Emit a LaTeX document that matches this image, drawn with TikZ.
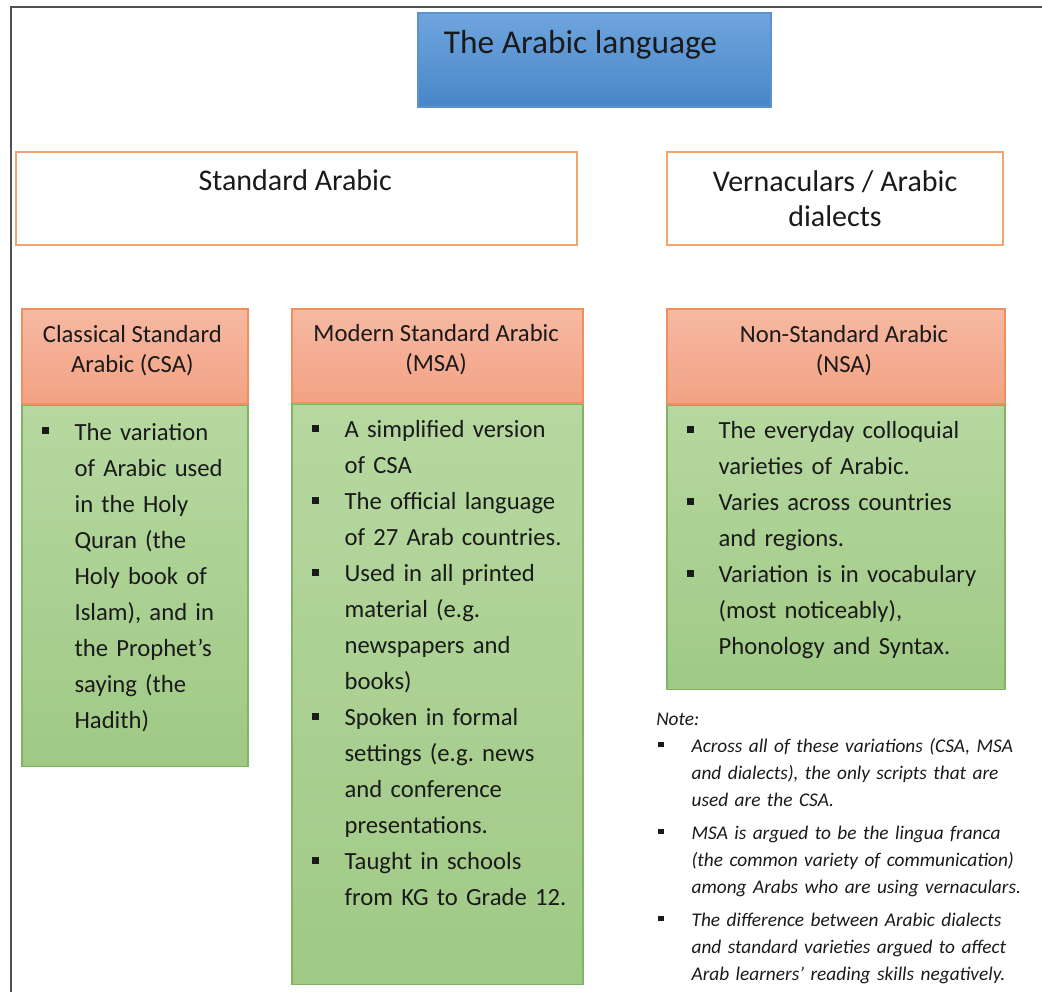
\documentclass[tikz,border=0pt]{standalone}
\usepackage{fontspec}
\setmainfont{Carlito}
\usetikzlibrary{positioning}

\definecolor{blueTop}{HTML}{6FA5DD}
\definecolor{blueBot}{HTML}{4886C8}
\definecolor{blueEdge}{HTML}{5B92CF}
\definecolor{frameCol}{HTML}{505050}
\definecolor{orangeEdge}{HTML}{F2A46E}
\definecolor{salmonTop}{HTML}{F6B9A2}
\definecolor{salmonBot}{HTML}{F3A283}
\definecolor{salmonEdge}{HTML}{EE8F5F}
\definecolor{greenTop}{HTML}{B6D8A0}
\definecolor{greenBot}{HTML}{A0C985}
\definecolor{greenEdge}{HTML}{80B363}
\definecolor{inkCol}{HTML}{1A1A1A}

% square bullet and list used in the boxes
\newcommand{\sqbullet}{\rule[0.24em]{0.28em}{0.28em}}
\newenvironment{sqlist}[1]{%
  \begin{list}{\sqbullet}{%
    \setlength\leftmargin{#1}\setlength\labelwidth{#1}%
    \setlength\labelsep{0pt}\setlength\topsep{0pt}%
    \setlength\partopsep{0pt}\setlength\parsep{0pt}%
    \setlength\itemsep{0pt}%
    \renewcommand\makelabel[1]{##1\hfil}}}%
  {\end{list}}

\tikzset{
  langbox/.style={draw=blueEdge, line width=1pt, top color=blueTop, bottom color=blueBot, inner sep=0pt},
  groupbox/.style={draw=orangeEdge, line width=1.2pt, fill=white, inner sep=0pt},
  headbox/.style={draw=salmonEdge, line width=1pt, top color=salmonTop, bottom color=salmonBot, inner sep=0pt},
  bodybox/.style={draw=greenEdge, line width=1pt, top color=greenTop, bottom color=greenBot, inner sep=0pt},
  headtext/.style={align=center, text=inkCol, inner sep=0pt, font=\fontsize{18.5pt}{22.5pt}\selectfont},
  bodytext/.style={anchor=base west, align=left, text=inkCol, inner sep=0pt, font=\fontsize{18.5pt}{27pt}\selectfont\frenchspacing},
}

\begin{document}
\begin{tikzpicture}[x=0.75pt, y=-0.75pt]
    \def\px{0.75pt}
    \fill[white] (0,0) rectangle (1042,992);
    \useasboundingbox (0,0) rectangle (1042,992);

    % frame
    \draw[frameCol, line width=1.2pt] (11,992) -- (11,7) -- (1042,7);

    % top box
    \node[langbox, minimum width=353*\px, minimum height=94*\px] (lang) at (594.5,60) {};
    \node[text=inkCol, font=\fontsize{25pt}{30pt}\selectfont] (langTxt) at ([xshift=-10.5pt,yshift=11.5pt]lang.center) {The Arabic language};

    % two groups
    \node[groupbox, minimum width=561*\px, minimum height=93*\px] (std) at (296.5,198.5) {};
    \node[text=inkCol, font=\fontsize{22.5pt}{26.25pt}\selectfont] (stdTxt) at ([xshift=-1pt,yshift=13.9pt]std.center) {Standard Arabic};
    \node[groupbox, minimum width=336*\px, minimum height=93*\px] (vern) at (835,198.5) {};
    \node[align=center, text=inkCol, font=\fontsize{22.5pt}{26.25pt}\selectfont] (vernTxt) at (vern.center) {Vernaculars / Arabic\\dialects};

    % headers
    \node[headbox, minimum width=226*\px, minimum height=95*\px] (csaH) at (135,356.5) {};
    \node[headbox, minimum width=291*\px, minimum height=94*\px] (msaH) at (437.5,356) {};
    \node[headbox, minimum width=338*\px, minimum height=95*\px] (nsaH) at (836,356.5) {};
    \node[headtext] (csaHTxt) at ([xshift=-2pt,yshift=4.5pt]csaH.center) {Classical Standard\\Arabic (CSA)};
    \node[headtext] (msaHTxt) at ([xshift=-1pt,yshift=4.5pt]msaH.center) {Modern Standard Arabic\\(MSA)};
    \node[headtext] (nsaHTxt) at ([xshift=6pt,yshift=4.5pt]nsaH.center) {Non-Standard Arabic\\(NSA)};

    % bodies
    \node[bodybox, minimum width=226*\px, minimum height=361*\px, below=0pt of csaH] (csaB) {};
    \node[bodybox, minimum width=291*\px, minimum height=580*\px, below=0pt of msaH] (msaB) {};
    \node[bodybox, minimum width=338*\px, minimum height=284*\px, below=0pt of nsaH] (nsaB) {};

    \node[bodytext, text width=155pt] (csaTxt) at ([xshift=15pt,yshift=0.5pt]csaB.north west) {%
      \begin{sqlist}{24.75pt}
      \item The variation\\of Arabic used\\in the Holy\\Quran (the\\Holy book of\\Islam), and in\\the Prophet’s\\saying (the\\Hadith)
      \end{sqlist}};
    \node[bodytext, text width=200pt] (msaTxt) at ([xshift=15pt,yshift=1.5pt]msaB.north west) {%
      \begin{sqlist}{24.75pt}
      \item A simplified version\\of CSA
      \item The official language\\of 27 Arab countries.
      \item Used in all printed\\material (e.g.\\newspapers and\\books)
      \item Spoken in formal\\settings (e.g. news\\and conference\\presentations.
      \item Taught in schools\\from KG to Grade 12.
      \end{sqlist}};
    \node[bodytext, text width=235pt] (nsaTxt) at ([xshift=15pt,yshift=1.5pt]nsaB.north west) {%
      \begin{sqlist}{24pt}
      \item The everyday colloquial\\varieties of Arabic.
      \item Varies across countries\\and regions.
      \item Variation is in vocabulary\\(most noticeably),\\Phonology and Syntax.
      \end{sqlist}};

    % note
    \node[anchor=base west, align=left, text=inkCol, inner sep=0pt, text width=285pt,
          font=\fontsize{14.5pt}{20.25pt}\selectfont\itshape\frenchspacing] (noteTxt) at (656,725) {%
      Note:\par
      \hspace*{1.5pt}\begin{minipage}[t]{283pt}
      \begin{sqlist}{25pt}\setlength\itemsep{4.5pt}
      \item Across all of these variations (CSA, MSA\\and dialects), the only scripts that are\\used are the CSA.
      \item MSA is argued to be the lingua franca\\(the common variety of communication)\\among Arabs who are using vernaculars.
      \item The difference between Arabic dialects\\and standard varieties argued to affect\\Arab learners’ reading skills negatively.
      \end{sqlist}
      \end{minipage}};
\end{tikzpicture}
\end{document}
